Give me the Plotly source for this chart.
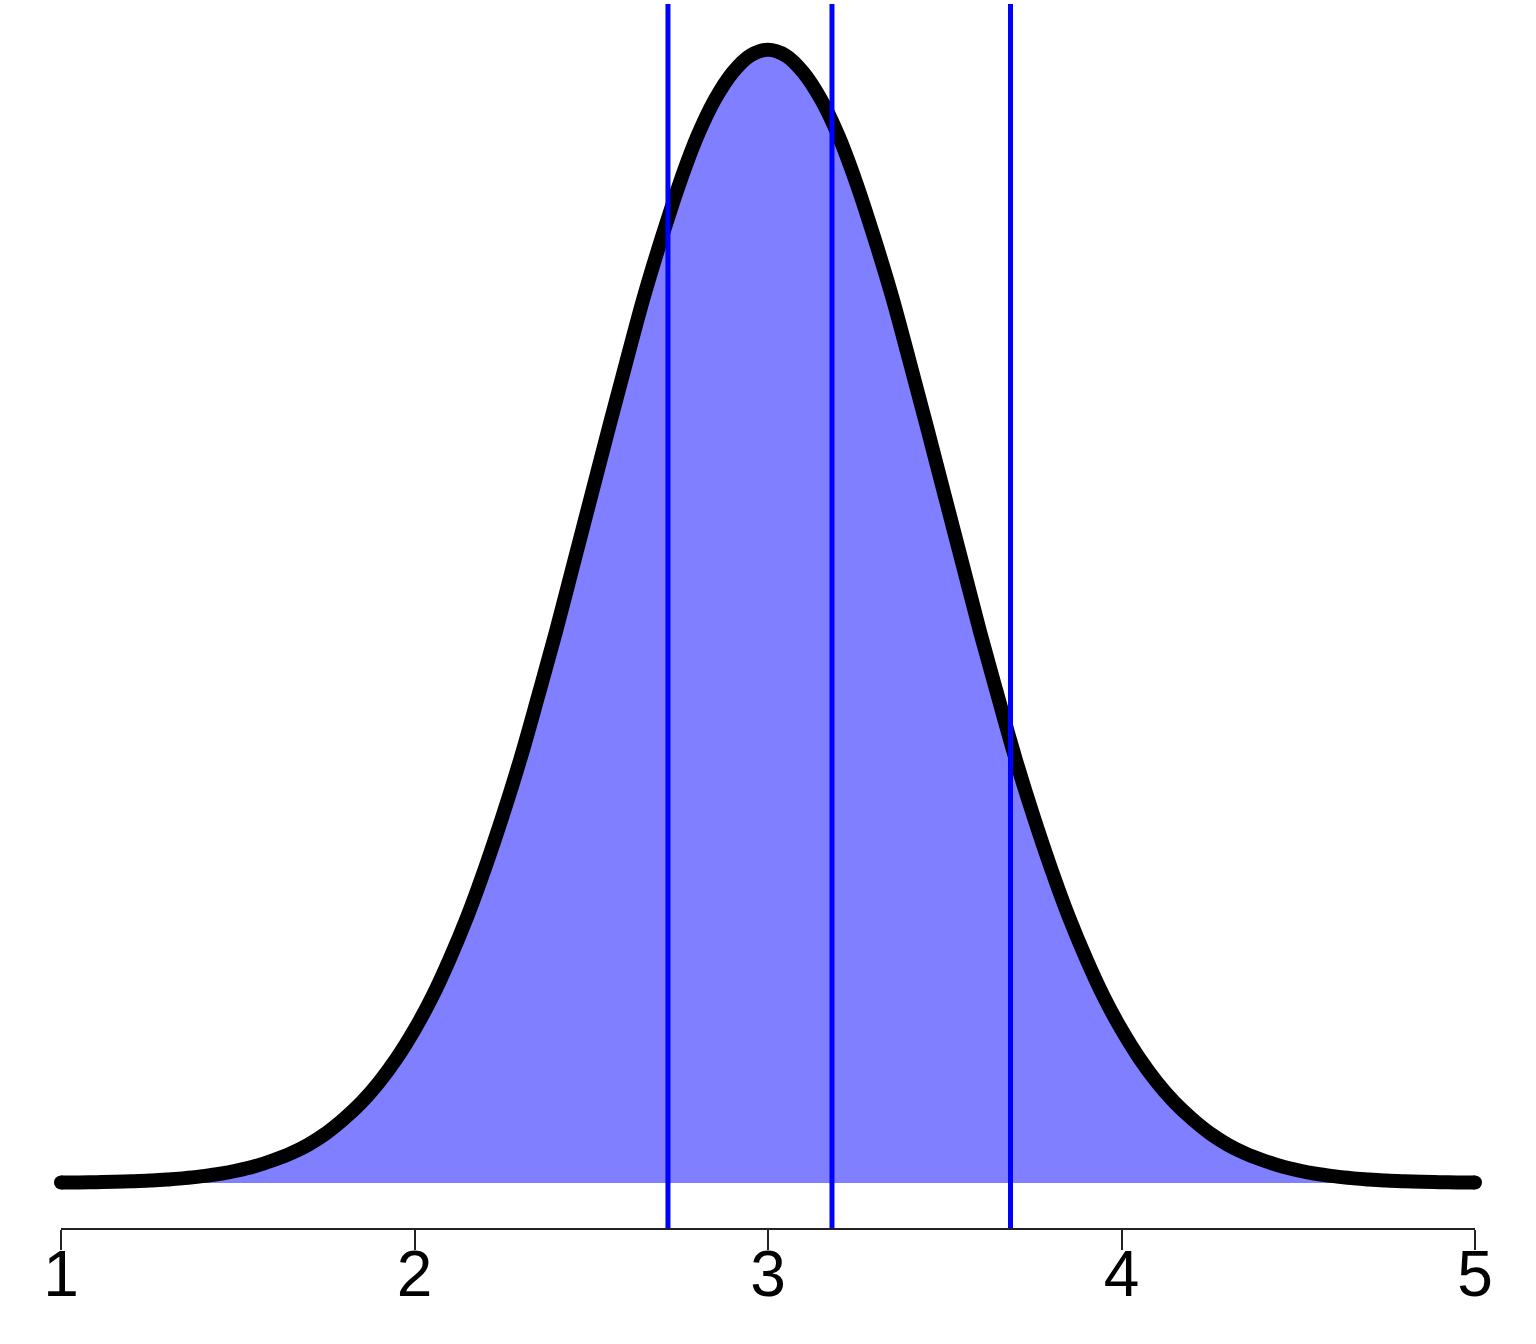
import plotly.graph_objects as go

# density curve values (x from 1 to 5, step 0.05)
x_vals = [round(1 + 0.05 * i, 2) for i in range(81)]
left_half = [
    0.0003, 0.0004, 0.0006, 0.0008, 0.0012, 0.0017, 0.0025, 0.0034, 0.0048, 0.0065,
    0.0089, 0.0119, 0.016, 0.0208, 0.027, 0.035, 0.045, 0.0567, 0.071, 0.088,
    0.108, 0.131, 0.158, 0.188, 0.222, 0.259, 0.299, 0.343, 0.388, 0.436,
    0.484, 0.532, 0.579, 0.625, 0.666, 0.704, 0.737, 0.763, 0.782, 0.794,
]
peak = [0.798]
right_half = [
    0.794, 0.782, 0.763, 0.737, 0.704, 0.666, 0.625, 0.579, 0.532, 0.484,
    0.436, 0.388, 0.343, 0.299, 0.259, 0.222, 0.188, 0.158, 0.131, 0.108,
    0.088, 0.071, 0.0567, 0.045, 0.035, 0.027, 0.0208, 0.016, 0.0119, 0.0089,
    0.0065, 0.0048, 0.0034, 0.0025, 0.0017, 0.0012, 0.0008, 0.0006, 0.0004, 0.0003,
]
density = left_half + peak + right_half
# vertical reference lines
vlines = [2.717, 3.181, 3.686]
tick_vals = [1, 2, 3, 4, 5]
tick_text = ["1", "2", "3", "4", "5"]

fig = go.Figure()
fig.add_trace(go.Scatter(
    x=x_vals, y=density, mode="lines", fill="tozeroy",
    fillcolor="rgba(0,0,255,0.5)",
    line=dict(color="rgba(0,0,0,0)", width=0, shape="spline", smoothing=1, simplify=False),
    hoverinfo="skip", showlegend=False,
))
for v in vlines:
    fig.add_shape(type="line", xref="x", yref="paper", x0=v, x1=v, y0=0, y1=1,
                  line=dict(color="#0000ff", width=5))
fig.add_trace(go.Scatter(
    x=x_vals, y=density, mode="lines",
    line=dict(color="black", width=14, shape="spline", smoothing=1, simplify=False),
    showlegend=False,
))
fig.add_trace(go.Scatter(
    x=[x_vals[0], x_vals[-1]], y=[density[0], density[-1]], mode="markers",
    marker=dict(color="black", size=14), cliponaxis=False, showlegend=False,
))

fig.update_layout(
    width=1536, height=1344,
    margin=dict(l=61, r=61, t=4, b=116),
    paper_bgcolor="white", plot_bgcolor="white",
    font=dict(family="Liberation Sans, Arial, sans-serif", color="black"),
    xaxis=dict(range=[1, 5], tickvals=tick_vals, ticktext=tick_text,
               showgrid=False, zeroline=False, showline=True, linecolor="#222",
               linewidth=2, ticks="outside", ticklen=20, tickwidth=2, tickcolor="#222",
               ticklabelstandoff=-31,
               tickfont=dict(size=64, color="black")),
    yaxis=dict(range=[-0.0317, 0.8302], visible=False, showgrid=False, zeroline=False),
)
fig.write_html("out.html", config={"displayModeBar": False},
               post_script="document.body.style.margin='0';")
